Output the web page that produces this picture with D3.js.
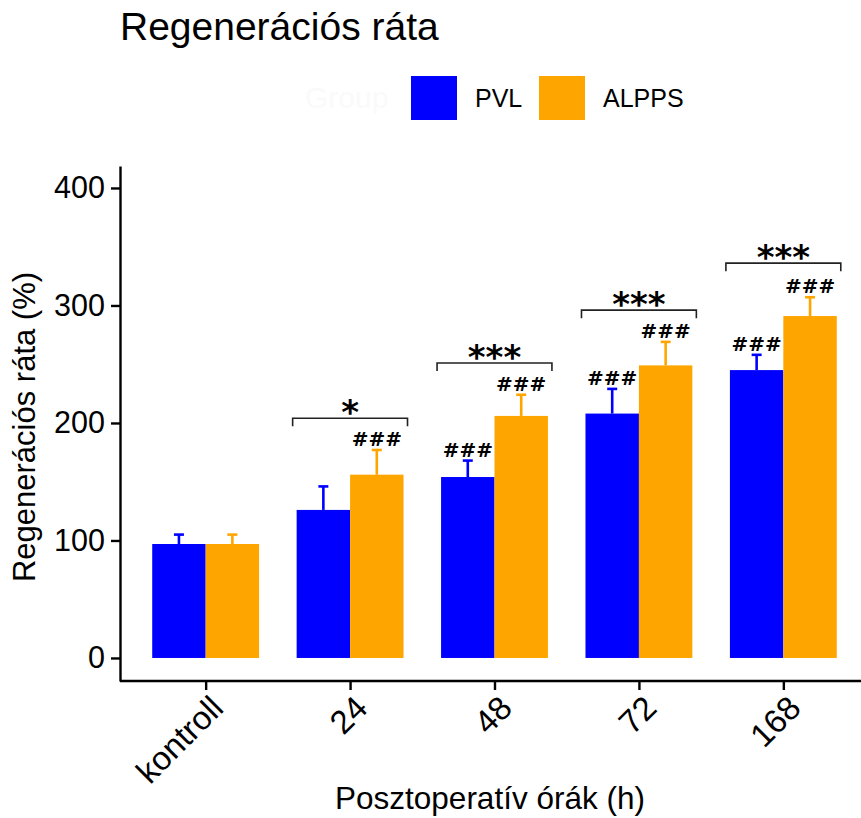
<!DOCTYPE html>
<html>
<head>
<meta charset="utf-8">
<script src="https://cdn.jsdelivr.net/npm/d3@7"></script>
<style>
  html, body { margin: 0; padding: 0; background: #ffffff; }
  svg { display: block; }
</style>
</head>
<body>
<svg id="chart" width="861" height="818"></svg>
<script>
// Regeneration rate (%) after PVL vs ALPPS, by postoperative hour
const categories = ["kontroll", "24", "48", "72", "168"];
const groups = ["PVL", "ALPPS"];
const pvlMean = [97, 126, 154, 208, 245];
const pvlSd = [8, 20, 14, 21, 13];
const alppsMean = [97, 156, 206, 249, 291];
const alppsSd = [8, 21, 18, 20, 16];
// "###" marks vs. kontroll for each bar
const pvlHash = ["", "", "###", "###", "###"];
const alppsHash = ["", "###", "###", "###", "###"];
// PVL vs ALPPS significance per time point and bracket height (in %)
const pairStars = ["", "*", "***", "***", "***"];
const bracketLevel = [null, 204, 251, 296, 336];
const yTicks = [0, 100, 200, 300, 400];
const colors = { PVL: "#0000FF", ALPPS: "#FFA500" };

const svg = d3.select("#chart");
const FONT = "'Liberation Sans', Arial, sans-serif";
const BOLD = "'DejaVu Sans', sans-serif";

const x = d3.scalePoint().domain(categories).range([119, 870]).padding(0.6);
const step = x.step();
const barW = step * 0.37;
const y = d3.scaleLinear().domain([-19.6, 418.7]).range([681, 166]);

const rows = categories.map((c, i) => ({
  cat: c,
  bars: [
    { g: "PVL", mean: pvlMean[i], sd: pvlSd[i], hash: pvlHash[i], off: -1 },
    { g: "ALPPS", mean: alppsMean[i], sd: alppsSd[i], hash: alppsHash[i], off: 0 }
  ],
  stars: pairStars[i],
  level: bracketLevel[i]
}));

const plot = svg.append("g");

// error bars (upper whisker) behind bars
rows.forEach(r => {
  r.bars.forEach(b => {
    const cx = x(r.cat) + b.off * barW + barW / 2;
    const g = plot.append("g").attr("stroke", colors[b.g]).attr("stroke-width", 2.6);
    g.append("line").attr("x1", cx).attr("x2", cx).attr("y1", y(b.mean)).attr("y2", y(b.mean + b.sd));
    g.append("line").attr("x1", cx - 5).attr("x2", cx + 5).attr("y1", y(b.mean + b.sd)).attr("y2", y(b.mean + b.sd));
  });
});

// bars
rows.forEach(r => {
  r.bars.forEach(b => {
    plot.append("rect")
      .attr("x", x(r.cat) + b.off * barW)
      .attr("y", y(b.mean))
      .attr("width", barW)
      .attr("height", y(0) - y(b.mean))
      .attr("fill", colors[b.g]);
  });
});

// ### labels above whiskers
rows.forEach(r => {
  r.bars.forEach(b => {
    if (!b.hash) return;
    const cx = x(r.cat) + b.off * barW + barW / 2;
    plot.append("text")
      .attr("x", cx)
      .attr("y", y(b.mean + b.sd) - 4)
      .attr("text-anchor", "middle")
      .attr("font-family", BOLD)
      .attr("font-weight", "bold")
      .attr("font-size", 20)
      .attr("fill", "#000")
      .text(b.hash);
  });
});

// significance brackets
rows.forEach(r => {
  if (r.level == null) return;
  const x0 = x(r.cat) - barW - 4;
  const x1 = x(r.cat) + barW + 4;
  const yy = y(r.level);
  plot.append("path")
    .attr("d", `M${x0},${yy + 8}V${yy}H${x1}V${yy + 8}`)
    .attr("fill", "none")
    .attr("stroke", "#222")
    .attr("stroke-width", 1.6);
  plot.append("text")
    .attr("x", x(r.cat))
    .attr("y", yy + 6)
    .attr("text-anchor", "middle")
    .attr("font-family", BOLD)
    .attr("font-weight", "bold")
    .attr("font-size", 34)
    .attr("fill", "#000")
    .text(r.stars);
});

// y axis
const yAxis = svg.append("g")
  .attr("transform", "translate(120,0)")
  .call(d3.axisLeft(y).tickValues(yTicks).tickSize(9).tickPadding(6).tickSizeOuter(0));
yAxis.select(".domain").attr("stroke", "#000").attr("stroke-width", 2.4);
yAxis.selectAll(".tick line").attr("stroke", "#000").attr("stroke-width", 2.4);
yAxis.selectAll(".tick text")
  .attr("font-family", FONT).attr("font-size", 30.5).attr("fill", "#000");

// x axis
const xAxis = svg.append("g")
  .attr("transform", "translate(0,681)")
  .call(d3.axisBottom(x).tickSize(9).tickSizeOuter(0));
xAxis.select(".domain").attr("d", "M120,0H861").attr("stroke", "#000").attr("stroke-width", 2.4);
xAxis.selectAll(".tick line").attr("stroke", "#000").attr("stroke-width", 2.4);
xAxis.selectAll(".tick text")
  .attr("font-family", FONT).attr("font-size", 33).attr("fill", "#000")
  .attr("text-anchor", "end")
  .attr("dy", null)
  .attr("y", 0)
  .attr("dominant-baseline", "hanging")
  .attr("transform", "translate(2,12) rotate(-45)");

// axis titles
svg.append("text")
  .attr("transform", "translate(35,427) rotate(-90)")
  .attr("text-anchor", "middle")
  .attr("font-family", FONT).attr("font-size", 31).attr("fill", "#000")
  .text("Regenerációs ráta (%)");
svg.append("text")
  .attr("x", 490).attr("y", 809)
  .attr("text-anchor", "middle")
  .attr("font-family", FONT).attr("font-size", 31.5).attr("fill", "#000")
  .text("Posztoperatív órák (h)");

// title
svg.append("text")
  .attr("x", 120).attr("y", 40)
  .attr("font-family", FONT).attr("font-size", 39).attr("fill", "#000")
  .text("Regenerációs ráta");

// legend
const legend = svg.append("g");
legend.append("text")
  .attr("x", 305).attr("y", 108)
  .attr("font-family", FONT).attr("font-size", 30).attr("fill", "#fafafa")
  .text("Group");
const legendX = [411, 539];
groups.forEach((gname, i) => {
  legend.append("rect")
    .attr("x", legendX[i]).attr("y", 76).attr("width", 46).attr("height", 44)
    .attr("fill", colors[gname]);
  legend.append("text")
    .attr("x", legendX[i] + 64).attr("y", 107)
    .attr("font-family", FONT).attr("font-size", 25).attr("fill", "#000")
    .text(gname);
});
</script>
</body>
</html>
